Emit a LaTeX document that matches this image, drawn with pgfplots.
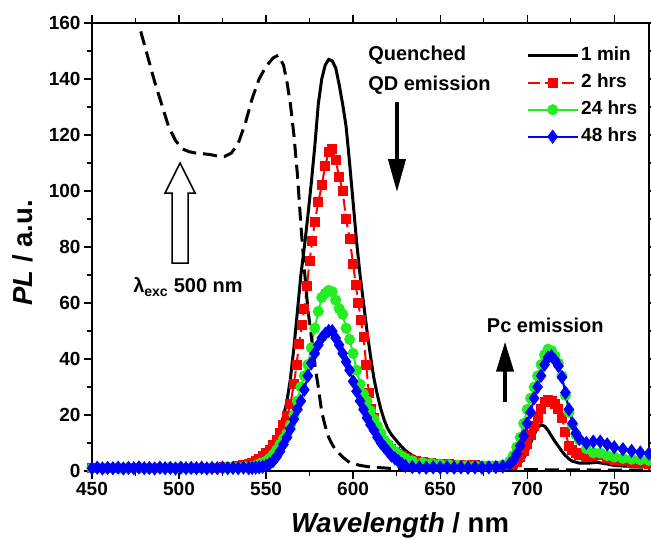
\documentclass[border=0pt]{standalone}
\usepackage{fontspec}
\setmainfont{Liberation Sans}
\usepackage{pgfplots}
\pgfplotsset{compat=1.18}
\usetikzlibrary{arrows.meta}
\definecolor{Sred}{HTML}{FF0000}
\definecolor{Sgreen}{HTML}{22EE22}
\definecolor{Sblue}{HTML}{0000FF}

% 1 min
\pgfplotstableread{
x y
450 0.8
460 0.8
470 0.8
480 0.8
490 0.8
500 0.8
510 0.8
520 0.8
530 0.9
536 1.0
540 1.1
542 1.3
544 1.6
546 2.2
548 3.0
550 4.2
552 5.8
554 8.0
556 11
558 15
560 19.5
562 25
564 33
566 44
568 57
570 70
572 80
574 91
576 103
578 116
580 131
582 140
584 145
586 147
588 146.5
590 144
592 138
594 131
596 123
598 110
600 96
602 82
604 70
606 60
608 50
610 41
612 33
614 27
616 22
618 18
620 15
622 13
624 11.5
626 10
628 8.6
630 7.4
632 6.4
634 5.6
636 4.9
640 3.9
645 3.0
650 2.4
660 1.8
670 1.4
680 1.2
690 1.2
694 1.8
696 2.8
698 4.5
700 7
702 10
704 13
706 15.5
708 16.5
710 16
712 14.5
714 12.5
716 10.5
718 8.8
720 7
722 5.5
724 4.3
726 3.5
730 2.8
735 2.8
740 3.1
745 2.6
750 2.0
760 1.6
770 1.4
}\tabmin

% 2 hrs
\pgfplotstableread{
x y
450 1.0
454 1.1
458 1.0
462 1.1
466 1.0
470 1.1
474 1.0
478 1.1
482 1.0
486 1.1
490 1.0
494 1.1
498 1.0
502 1.1
506 1.0
510 1.1
514 1.0
518 1.1
522 1.2
526 1.3
530 1.5
534 1.8
537 2.2
540 2.6
542 3.0
544 3.6
546 4.3
548 5.2
550 6.3
552 7.6
554 9.2
556 11.2
558 13.5
560 16.5
562 19.5
564 24
566 31
567.5 38
569 45.5
570.5 52
572 58
573.5 66
575 75
576.5 82
578 89
580 96
582 102
584 109
586 114
588 115
590 111
592 105
594 100
596 90
598 83
600 74
601.5 66.5
603 60
604.5 54
606 48
607.5 38
609 28
610.5 22
612 19
614 15.5
616 12.5
618 10.5
620 9
622 7.8
624 6.8
626 6
628 5.2
630 4.6
632 4.2
636 3.6
640 3.2
645 2.9
650 2.6
655 2.4
660 2.2
665 2.1
670 2.0
675 1.9
680 1.8
685 1.8
690 2.0
692 2.5
694 3.2
696 5
698 7
700 9.5
702 13
704 16
706 19
708 22
710 24.5
712 25.3
714 25
716 24
718 22
720 19
722 14
724 9
726 7.5
728 6.5
730 5.8
734 5
738 5.4
742 5.6
746 4.8
750 4
755 3.4
760 3
765 2.8
770 2.6
}\tabtwo

% 24 hrs
\pgfplotstableread{
x y
450 1.0
454 1.1
458 1.0
462 1.1
466 1.0
470 1.1
474 1.0
478 1.1
482 1.0
486 1.1
490 1.0
494 1.1
498 1.0
502 1.1
506 1.0
510 1.1
514 1.0
518 1.1
522 1.1
526 1.2
530 1.3
534 1.4
538 1.5
542 1.6
544 2.0
546 2.5
548 3.0
550 3.5
552 4.5
554 5.8
556 7.5
558 9.5
560 11.5
562 13.5
564 16.5
566 20
568 25
570 30
572 34
574 38
576 44
578 51
580 57
582 62
584 63.5
586 64.5
588 64
590 61
592 58
594 56
596 51
598 47
600 42
602 36
604 31
606 27.5
608 25
610 21.5
612 18.5
614 16
616 13.5
618 11
620 9.5
622 8
624 7
626 6
628 5.2
630 4.5
634 3.6
640 3.0
645 2.7
650 2.4
655 2.2
660 2.0
665 1.9
670 1.8
675 1.8
680 1.8
686 2.2
690 3.5
692 5.5
694 8.5
696 12
698 17
700 22
702 26
704 30
706 34
708 38
710 41.5
712 43.5
714 43
716 41
718 38.5
720 34
722 27
724 21
726 16.5
728 13
730 11
734 8
738 6.5
742 6.4
746 5.5
750 5
755 4.5
760 4.2
765 4
770 3.8
}\tabtf

% 48 hrs
\pgfplotstableread{
x y
450 1.0
453 1.2
456 0.9
459 1.1
462 1.0
465 1.2
468 0.9
471 1.1
474 1.0
477 1.3
480 1.0
483 1.1
486 0.9
489 1.2
492 1.0
495 1.1
498 0.9
501 1.2
504 1.0
507 1.1
510 1.0
513 1.2
516 0.9
519 1.1
522 1.0
525 1.2
528 1.0
531 1.1
534 1.0
537 1.2
540 1.0
542 1.1
544 1.2
546 1.3
548 1.5
550 1.8
552 2.5
554 3.5
556 5
558 7
560 9.5
562 12
564 15
566 18.5
568 22
570 25
572 29
574 34
576 38.5
578 42
580 45
582 47.5
584 49
586 50
588 50
590 47.5
592 45
594 42
596 39
598 36
600 32
602 28.5
604 25
606 22
608 19
610 16.5
612 14.5
614 12
616 10
618 8.5
620 7
622 5.5
624 4.5
626 3.5
628 2.5
630 1.8
634 1.4
638 1.3
642 1.2
646 1.3
650 1.2
654 1.3
658 1.2
662 1.3
666 1.2
670 1.3
674 1.2
678 1.3
682 1.4
686 1.6
690 2.5
692 3.8
694 6
696 9
698 12.5
700 17
702 21
704 26
706 30
708 34
710 38
712 40.5
714 41
716 39.5
718 37.5
720 33.5
722 28
724 22
726 17
728 13.5
730 11.5
734 10
738 10.5
742 10.5
746 9.5
750 8.5
755 7.8
760 7.2
765 6.6
770 6.2
}\tabfe

% absorption (dashed)
\pgfplotstableread{
x y
478 157
482 148
486 139
490 131
494 123
498 118
502 115
506 114
510 113.5
514 113.3
518 113
522 112.5
526 112.3
530 113.5
534 117
538 124
542 133
546 140
550 144.5
554 147.5
557 148.5
560 145
562 139
564 131
566 120
568 106
570 88
572 72
574 58
576 48
578 38
580 30
582 21
584 16
586 12
588 9.5
590 7.5
594 5
598 3
604 2
610 1.4
620 1.0
630 0.6
650 0.4
680 0.3
700 0.5
720 0.4
760 0.3
770 0.3
}\tababs

\begin{document}
\begin{tikzpicture}
\path[use as bounding box] (-92pt,-68pt) rectangle (559pt,471pt);
\begin{axis}[
  width=557pt,height=448pt,scale only axis,
  xmin=450,xmax=770,ymin=0,ymax=160,
  xtick={450,500,...,750},minor x tick num=1,
  ytick={0,20,...,160},minor y tick num=1,
  tick align=outside,major tick length=8pt,minor tick length=5pt,
  every tick/.style={black,line width=1.2pt},
  axis line style={line width=1.3pt},
  ticklabel style={font=\bfseries\fontsize{19}{22}\selectfont},
  /pgf/number format/assume math mode=true,
  xlabel={\textbf{\textit{Wavelength}} / nm},
  ylabel={\textbf{\textit{PL}} / a.u.},
  label style={font=\bfseries\fontsize{27.5}{32}\selectfont},
  xlabel style={at={(axis description cs:0.553,-0.138)},anchor=base},
  ylabel style={at={(axis description cs:-0.106,0.487)},anchor=base},
  legend style={at={(axis description cs:0,1)},anchor=north west,xshift=434pt,yshift=-22pt,
    draw=none,fill=none,inner sep=0pt,row sep=6pt,
    font=\bfseries\fontsize{19}{22}\selectfont,
    nodes={text height=13pt,text depth=4pt,inner sep=2pt}},
  legend cell align=left,
  legend image code/.code={\draw[mark repeat=2,mark phase=2,#1] plot coordinates {(0pt,0pt) (25pt,0pt) (50pt,0pt)};},
]
\addplot[black,line width=3pt] table {\tabmin};
\addlegendentry{1 min}
\addplot[Sred,line width=2pt,dash pattern=on 12pt off 5pt,mark=square*,mark size=4pt,mark options={solid}] table {\tabtwo};
\addlegendentry{2 hrs}
\addplot[Sgreen,line width=2pt,mark=*,mark size=4.5pt] table {\tabtf};
\addlegendentry{24 hrs}
\addplot[Sblue,line width=2pt,mark=diamond*,mark size=5.5pt] table {\tabfe};
\addlegendentry{48 hrs}
\addplot[black,line width=3pt,dash pattern=on 14pt off 7pt,forget plot] table {\tababs};

\node[anchor=west,align=left,inner sep=0pt,font=\bfseries\fontsize{20}{30}\selectfont] at (axis cs:608.6,143.2) {Quenched\\QD emission};
\draw[line width=4pt,-{Triangle[length=33pt,width=17pt]}] (axis cs:625.2,131.8) -- (axis cs:625.2,99.6);
\draw[line width=1.5pt,fill=white] (axis cs:500.6,110) -- ++(15pt,-30pt) -- ++(-7pt,0pt) -- ++(0pt,-70pt) -- ++(-16pt,0pt) -- ++(0pt,70pt) -- ++(-7pt,0pt) -- cycle;
\node[anchor=base west,inner sep=0pt,font=\bfseries\fontsize{20}{24}\selectfont] at (axis cs:473.6,63.6) {λ\textsubscript{exc} 500 nm};
\node[anchor=west,inner sep=0pt,font=\bfseries\fontsize{20}{24}\selectfont] at (axis cs:676.8,52.1) {Pc emission};
\draw[line width=4pt,-{Triangle[length=30pt,width=17pt]}] (axis cs:687.3,24.8) -- (axis cs:687.3,46.2);
\end{axis}
\end{tikzpicture}
\end{document}
